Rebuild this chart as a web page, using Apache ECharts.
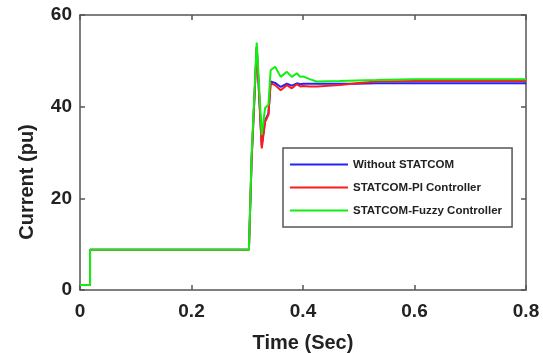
<!DOCTYPE html>
<html>
<head>
<meta charset="utf-8">
<script src="https://cdn.jsdelivr.net/npm/echarts@6/dist/echarts.min.js"></script>
<style>html,body{margin:0;padding:0;background:#fff}#c{width:543px;height:353px}</style>
</head>
<body>
<div id="c"></div>
<script>
const seriesNames = ['Without STATCOM', 'STATCOM-PI Controller', 'STATCOM-Fuzzy Controller'];
const xTicks = [0, 0.2, 0.4, 0.6, 0.8];
const yTicks = [0, 20, 40, 60];
const time  = [0, 0.018, 0.018, 0.303, 0.308, 0.317, 0.326, 0.332, 0.338, 0.342, 0.350, 0.360, 0.371, 0.380, 0.389, 0.395, 0.400, 0.412, 0.424, 0.466, 0.496, 0.532, 0.600, 0.800];
const blue  = [1.1, 1.1, 8.8, 8.8, 29.0, 53.0, 31.5, 37.0, 38.5, 45.5, 45.2, 44.3, 45.0, 44.6, 45.1, 44.9, 45.0, 45.0, 45.0, 45.0, 45.0, 45.1, 45.1, 45.1];
const red   = [1.1, 1.1, 8.8, 8.8, 29.0, 53.0, 30.9, 36.7, 38.2, 45.1, 44.7, 43.6, 44.7, 44.0, 44.9, 44.4, 44.5, 44.4, 44.4, 44.7, 45.1, 45.5, 45.6, 45.6];
const green = [1.1, 1.1, 8.8, 8.8, 30.0, 54.0, 33.8, 39.7, 40.4, 48.0, 48.7, 46.5, 47.6, 46.5, 47.3, 46.5, 46.6, 46.0, 45.5, 45.6, 45.7, 45.8, 46.0, 46.0];
const colors = ['#2222ff', '#ff1a1a', '#11ee11'];
const valueSets = [blue, red, green];

const chart = echarts.init(document.getElementById('c'));
const FONT = 'Liberation Sans';
const axisLine = {show: true, onZero: false, lineStyle: {color: '#555', width: 1.5}};
const ticks = {show: true, inside: true, length: 5, lineStyle: {color: '#555', width: 1.5}};
chart.setOption({
  animation: false,
  backgroundColor: '#fff',
  grid: {left: 80, right: 17, top: 15, bottom: 63, show: false, containLabel: false, outerBoundsMode: 'none'},
  xAxis: [{
    type: 'value', min: xTicks[0], max: xTicks[xTicks.length - 1], interval: 0.2,
    axisLine: axisLine, axisTick: ticks, splitLine: {show: false},
    axisLabel: {margin: 12, color: '#222', fontFamily: FONT, fontWeight: 'bold', fontSize: 19},
    name: 'Time (Sec)', nameLocation: 'middle', nameGap: 43,
    nameTextStyle: {color: '#222', fontFamily: FONT, fontWeight: 'bold', fontSize: 20}
  }, {
    type: 'value', position: 'top', min: xTicks[0], max: xTicks[xTicks.length - 1], interval: 0.2,
    axisLine: axisLine, axisTick: ticks, axisLabel: {show: false}, splitLine: {show: false}
  }],
  yAxis: [{
    type: 'value', min: yTicks[0], max: yTicks[yTicks.length - 1], interval: 20,
    axisLine: axisLine, axisTick: ticks, splitLine: {show: false},
    axisLabel: {margin: 8, color: '#222', fontFamily: FONT, fontWeight: 'bold', fontSize: 19}
  }, {
    type: 'value', position: 'right', min: yTicks[0], max: yTicks[yTicks.length - 1], interval: 20,
    axisLine: axisLine, axisTick: ticks, axisLabel: {show: false}, splitLine: {show: false}
  }],
  legend: {
    orient: 'vertical', left: 283, top: 148,
    backgroundColor: '#fff', borderColor: '#555', borderWidth: 1.5, borderRadius: 0,
    padding: [10, 10, 10, 7], itemWidth: 58, itemHeight: 2, itemGap: 10, icon: 'rect',
    textStyle: {color: '#222', fontFamily: FONT, fontWeight: 'bold', fontSize: 11.5, lineHeight: 13},
    data: seriesNames
  },
  graphic: [{
    type: 'text', x: 27, y: 182, rotation: Math.PI / 2,
    style: {text: 'Current (pu)', fill: '#222', font: 'bold 20px "Liberation Sans"', textAlign: 'center', textVerticalAlign: 'middle'}
  }],
  series: seriesNames.map((n, i) => ({
    name: n, type: 'line', showSymbol: false, symbol: 'none',
    lineStyle: {color: colors[i], width: 2}, itemStyle: {color: colors[i]},
    data: time.map((t, k) => [t, valueSets[i][k]]), z: 2 + i
  }))
});
</script>
</body>
</html>
